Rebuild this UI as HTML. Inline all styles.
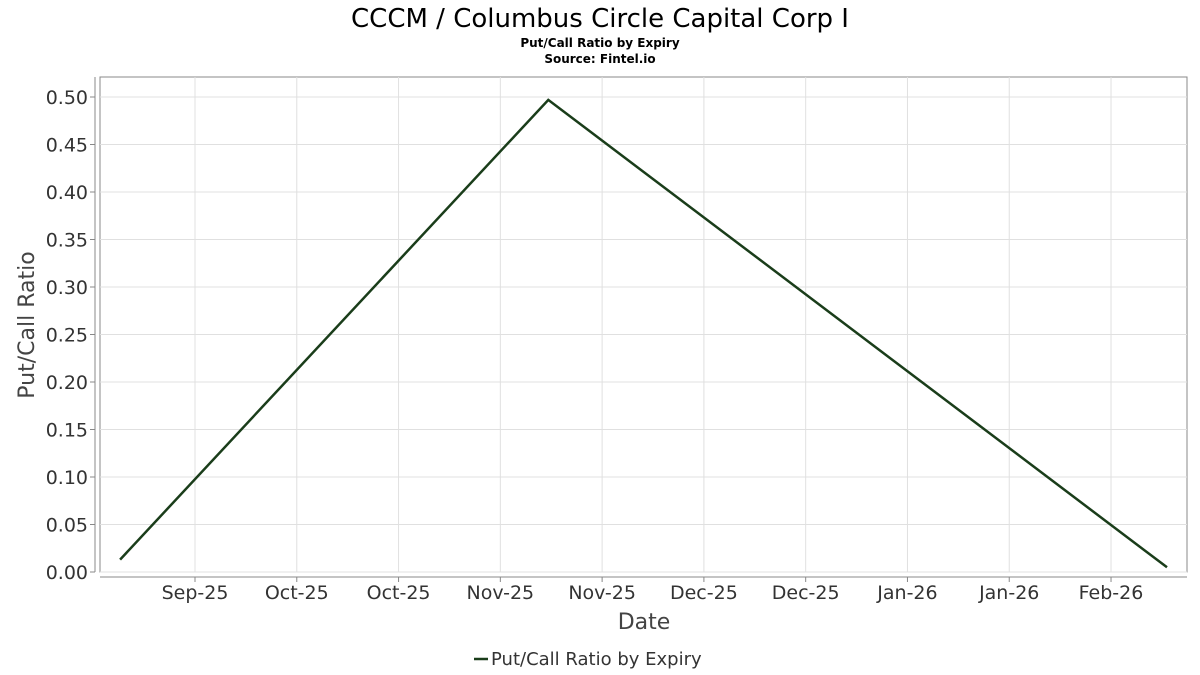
<!DOCTYPE html>
<html><head><meta charset="utf-8"><style>
body{margin:0;background:#fff;}
svg{display:block;font-family:"DejaVu Sans","Liberation Sans",sans-serif;}
</style></head><body>
<svg id="chart" width="1200" height="675" viewBox="0 0 1200 675">
<text x="600" y="27" text-anchor="middle" font-size="26" fill="#000">CCCM / Columbus Circle Capital Corp I</text>
<text x="600" y="47" text-anchor="middle" font-size="12" font-weight="bold" fill="#000">Put/Call Ratio by Expiry</text>
<text x="600" y="63" text-anchor="middle" font-size="12" font-weight="bold" fill="#000">Source: Fintel.io</text>
<rect x="100" y="77" width="1087" height="495" fill="#fff" stroke="#888" stroke-width="1"/>
<g id="grid"></g>
<g id="axes"></g>
<text transform="translate(34,325) rotate(-90)" text-anchor="middle" font-size="22" fill="#444">Put/Call Ratio</text>
<text x="644" y="629" text-anchor="middle" font-size="22" fill="#444">Date</text>
<g>
<line x1="474" y1="659" x2="488" y2="659" stroke="#1a3d1a" stroke-width="2.5"/>
<text x="491" y="665" font-size="18" fill="#333">Put/Call Ratio by Expiry</text>
</g>
<g id="series"></g>
</svg>
<script>
const yTicks=[0,0.05,0.1,0.15,0.2,0.25,0.3,0.35,0.4,0.45,0.5];
const xTickDays=[0,14,28,42,56,70,84,98,112,126];
const xTickLabels=["Sep-25","Oct-25","Oct-25","Nov-25","Nov-25","Dec-25","Dec-25","Jan-26","Jan-26","Feb-26"];
const pointDays=[-10.3,48.6,133.7];
const pointValues=[0.013,0.497,0.005];
const NS="http://www.w3.org/2000/svg";
function xS(d){return 195+d*7.27;}
function yS(v){return 572-v*950;}
function mk(tag,attrs,parent){const e=document.createElementNS(NS,tag);for(const k in attrs)e.setAttribute(k,attrs[k]);parent.appendChild(e);return e;}
const grid=document.getElementById('grid'),axes=document.getElementById('axes'),series=document.getElementById('series');
mk('line',{x1:95,y1:77,x2:95,y2:572,stroke:'#888'},axes);
mk('line',{x1:100,y1:577,x2:1187,y2:577,stroke:'#888'},axes);
yTicks.forEach(v=>{
 const y=yS(v);
 const g=mk('line',{x1:100,y1:y,x2:1187,y2:y,stroke:'#e0e0e0'},grid);
 
 
 mk('line',{x1:90,y1:y,x2:95,y2:y,stroke:'#888'},axes);
 const t=mk('text',{x:88,y:y+7,'text-anchor':'end','font-size':19,fill:'#333'},axes);
 t.textContent=v.toFixed(2);
 
 
});
xTickDays.forEach((d,i)=>{
 const x=xS(d);
 const g=mk('line',{x1:x,y1:77,x2:x,y2:572,stroke:'#e0e0e0'},grid);
 
 
 mk('line',{x1:x,y1:577,x2:x,y2:582,stroke:'#888'},axes);
 const t=mk('text',{x:x,y:599,'text-anchor':'middle','font-size':19,fill:'#333'},axes);
 t.textContent=xTickLabels[i];
 
 
});
const pts=pointDays.map((d,i)=>xS(d).toFixed(1)+','+yS(pointValues[i]).toFixed(1)).join(' ');
const pl=mk('polyline',{points:pts,fill:'none',stroke:'#1a3d1a','stroke-width':2.5,'stroke-linejoin':'miter'},series);


</script>
</body></html>
